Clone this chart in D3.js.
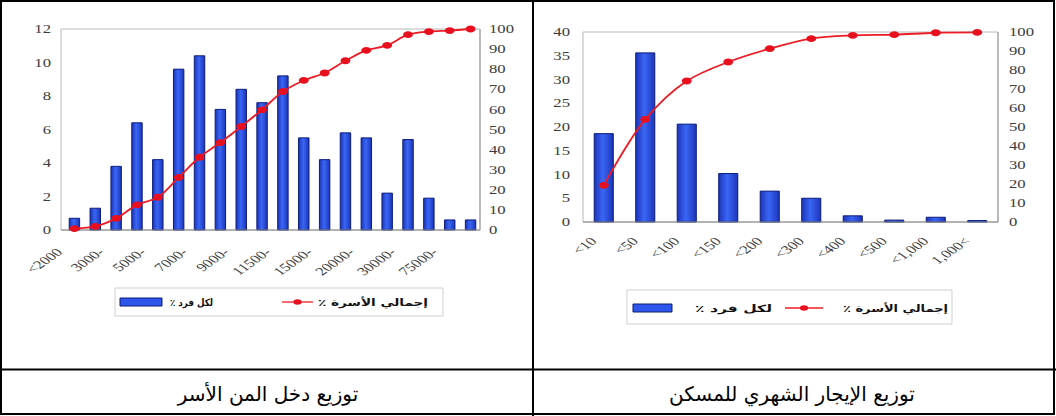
<!DOCTYPE html>
<html>
<head>
<meta charset="utf-8">
<script src="https://cdn.jsdelivr.net/npm/d3@7/dist/d3.min.js"></script>
<style>
  body { margin: 0; background: #fff; }
  svg { display: block; }
</style>
</head>
<body>
<svg id="chart" width="1056" height="416"></svg>
<script>
// ---- income distribution (left panel) ----
const incomeTickLabels = ["<2000", "3000-", "5000-", "7000-", "9000-", "11500-", "15000-", "20000-", "30000-", "75000-"];
const incomeShare = [0.7, 1.3, 3.8, 6.4, 4.2, 9.6, 10.4, 7.2, 8.4, 7.6, 9.2, 5.5, 4.2, 5.8, 5.5, 2.2, 5.4, 1.9, 0.6, 0.6];
const incomeCum = [0.7, 1.8, 5.8, 12.5, 16.3, 26.2, 36.2, 43.5, 51.5, 59.8, 68.9, 74.4, 78.1, 84.2, 89.4, 91.9, 97.2, 98.7, 99.2, 100];
const incomeLeftTicks = [0, 2, 4, 6, 8, 10, 12];

// ---- monthly rent distribution (right panel) ----
const rentLabels = ["<10", "<50", "<100", "<150", "<200", "<300", "<400", "<500", "<1,000", "1,000<"];
const rentShare = [18.6, 35.6, 20.6, 10.2, 6.5, 5.0, 1.3, 0.4, 1.0, 0.3];
const rentCum = [19.3, 54.0, 74.2, 84.2, 91.2, 96.5, 98.2, 98.6, 99.6, 99.8];
const rentLeftTicks = [0, 5, 10, 15, 20, 25, 30, 35, 40];

const pctTicks = [0, 10, 20, 30, 40, 50, 60, 70, 80, 90, 100];
const legendShare = "لكل فرد ٪";
const legendCum = "إجمالي الأسرة ٪";
const captionIncome = "توزيع دخل المن الأسر";
const captionRent = "توزيع الإيجار الشهري للمسكن";

const svg = d3.select("#chart");
const SX = 1.45; // the chart drawings are widened horizontally inside their cells

const defs = svg.append("defs");
const grad = defs.append("linearGradient").attr("id", "barFill")
  .attr("x1", "0%").attr("x2", "100%").attr("y1", "0%").attr("y2", "0%");
grad.append("stop").attr("offset", "0%").attr("stop-color", "#1c35b8");
grad.append("stop").attr("offset", "45%").attr("stop-color", "#3a66f5");
grad.append("stop").attr("offset", "100%").attr("stop-color", "#1c35b8");

const AXIS_FONT = "'Liberation Serif', 'Times New Roman', serif";
const AR_FONT = "'DejaVu Sans', sans-serif";

function drawChart(o) {
  const g = svg.append("g").attr("transform", `scale(${SX},1)`);
  const n = o.share.length;
  const x = d3.scaleBand().domain(d3.range(n))
    .range([o.barL / SX, o.barR / SX])
    .paddingInner(o.pad).paddingOuter(o.pad / 2);
  const y = d3.scaleLinear().domain([0, o.yMax]).range([o.bottom, o.top]);
  const y2 = d3.scaleLinear().domain([0, 100]).range([o.bottom, o.top]);
  const bw = x.bandwidth();

  // plot frame
  g.append("rect")
    .attr("x", o.plotL / SX).attr("y", o.top)
    .attr("width", (o.plotR - o.plotL) / SX).attr("height", o.bottom - o.top)
    .attr("fill", "#fff").attr("stroke", "#b8b8b8")
    .attr("vector-effect", "non-scaling-stroke");
  g.append("line")
    .attr("x1", o.plotR / SX).attr("x2", o.plotR / SX)
    .attr("y1", o.top).attr("y2", o.bottom)
    .attr("stroke", "#999").attr("vector-effect", "non-scaling-stroke");

  // left value axis
  const yAxis = g.append("g").attr("transform", `translate(${o.plotL / SX},0)`)
    .call(d3.axisLeft(y).tickValues(o.leftTicks).tickSize(0).tickPadding(o.padL / SX));
  // right cumulative axis
  const y2Axis = g.append("g").attr("transform", `translate(${o.plotR / SX},0)`)
    .call(d3.axisRight(y2).tickValues(pctTicks).tickSize(0).tickPadding(o.padR / SX));
  [yAxis, y2Axis].forEach(a => {
    a.select(".domain").remove();
    a.selectAll("text").attr("font-family", AXIS_FONT).attr("font-size", o.fs).attr("fill", "#3c3c3c");
  });

  // bars
  g.append("g").selectAll("rect").data(o.share).join("rect")
    .attr("x", (d, i) => x(i)).attr("width", bw)
    .attr("y", d => y(d)).attr("height", d => y(0) - y(d))
    .attr("fill", "url(#barFill)").attr("stroke", "#0c1c7a").attr("stroke-width", 1)
    .attr("vector-effect", "non-scaling-stroke");

  // baseline
  g.append("line")
    .attr("x1", o.plotL / SX).attr("x2", o.plotR / SX)
    .attr("y1", o.bottom).attr("y2", o.bottom)
    .attr("stroke", "#8a8a8a").attr("vector-effect", "non-scaling-stroke");

  // category labels
  const xAxis = g.append("g").attr("transform", `translate(0,${o.bottom})`)
    .call(d3.axisBottom(x).tickValues(o.tickIdx).tickSize(0)
      .tickFormat((d, i) => o.labels[i]));
  xAxis.select(".domain").remove();
  xAxis.selectAll("text")
    .attr("x", 0).attr("y", 0).attr("dy", 0)
    .attr("text-anchor", "end")
    .attr("transform", `translate(${o.lblDx / SX},${o.lblDy}) rotate(-45)`)
    .attr("font-family", AXIS_FONT).attr("font-size", o.fs).attr("fill", "#3c3c3c");

  // cumulative line
  const line = d3.line().x((d, i) => x(i) + bw / 2).y(d => y2(d)).curve(d3.curveCatmullRom);
  g.append("path").datum(o.cum).attr("d", line)
    .attr("fill", "none").attr("stroke", "#ec1c24").attr("stroke-width", 1.8)
    .attr("vector-effect", "non-scaling-stroke");
  g.append("g").selectAll("circle").data(o.cum).join("circle")
    .attr("cx", (d, i) => x(i) + bw / 2).attr("cy", d => y2(d)).attr("r", 3.4)
    .attr("fill", "#e8101e");

  // legend
  const L = o.legend;
  g.append("rect")
    .attr("x", L.boxL / SX).attr("y", L.boxT)
    .attr("width", (L.boxR - L.boxL) / SX).attr("height", L.boxB - L.boxT)
    .attr("fill", "#fff").attr("stroke", "#cfcfcf")
    .attr("vector-effect", "non-scaling-stroke");
  g.append("rect")
    .attr("x", L.swL / SX).attr("y", L.cy - 4)
    .attr("width", (L.swR - L.swL) / SX).attr("height", 8)
    .attr("fill", "#2d56ea").attr("stroke", "#0c1c7a")
    .attr("vector-effect", "non-scaling-stroke");
  g.append("line")
    .attr("x1", L.lnL / SX).attr("x2", L.lnR / SX)
    .attr("y1", L.cy).attr("y2", L.cy)
    .attr("stroke", "#ec1c24").attr("stroke-width", 1.3)
    .attr("vector-effect", "non-scaling-stroke");
  g.append("circle")
    .attr("cx", (L.lnL + L.lnR) / 2 / SX).attr("cy", L.cy).attr("r", 2.8)
    .attr("fill", "#e8101e");
  [[legendShare, L.t1L, L.t1R], [legendCum, L.t2L, L.t2R]].forEach(([txt, a, b]) => {
    g.append("text")
      .attr("x", (a + b) / 2 / SX).attr("y", L.cy + 4)
      .attr("text-anchor", "middle").attr("direction", "rtl")
      .attr("textLength", (b - a) / SX).attr("lengthAdjust", "spacingAndGlyphs")
      .attr("font-family", AR_FONT).attr("font-weight", "bold")
      .attr("font-size", 10).attr("fill", "#111")
      .text(txt);
  });
}

drawChart({
  share: incomeShare, cum: incomeCum, yMax: 12, leftTicks: incomeLeftTicks,
  labels: incomeTickLabels, tickIdx: d3.range(0, incomeShare.length, 2),
  plotL: 61, plotR: 480, barL: 64, barR: 481, pad: 0.5,
  top: 29, bottom: 230, padL: 10, padR: 9, fs: 11.5,
  lblDx: -11, lblDy: 23,
  legend: { boxL: 115, boxR: 443, boxT: 288, boxB: 316, cy: 302,
            swL: 120, swR: 162, t1L: 170, t1R: 213, lnL: 282, lnR: 313, t2L: 318, t2R: 428 }
});

drawChart({
  share: rentShare, cum: rentCum, yMax: 40, leftTicks: rentLeftTicks,
  labels: rentLabels, tickIdx: d3.range(rentShare.length),
  plotL: 583, plotR: 998, barL: 583, barR: 998, pad: 0.54,
  top: 32, bottom: 222, padL: 13, padR: 11, fs: 11.5,
  lblDx: -6, lblDy: 20,
  legend: { boxL: 627, boxR: 952, boxT: 290, boxB: 324, cy: 308,
            swL: 633, swR: 672, t1L: 695, t1R: 772, lnL: 785, lnR: 823, t2L: 843, t2R: 948 }
});

// table grid
const grid = svg.append("g").attr("stroke", "#000").attr("stroke-width", 2).attr("fill", "none");
grid.append("rect").attr("x", 1).attr("y", 1).attr("width", 1053).attr("height", 413);
grid.append("line").attr("x1", 533).attr("x2", 533).attr("y1", 0).attr("y2", 416);
grid.append("line").attr("x1", 0).attr("x2", 1056).attr("y1", 369.5).attr("y2", 369.5);

// captions
[[captionIncome, 268], [captionRent, 792]].forEach(([txt, cx]) => {
  svg.append("text")
    .attr("x", cx).attr("y", 401)
    .attr("text-anchor", "middle").attr("direction", "rtl")
    .attr("font-family", AR_FONT).attr("font-size", 20).attr("fill", "#000")
    .text(txt);
});
</script>
</body>
</html>
